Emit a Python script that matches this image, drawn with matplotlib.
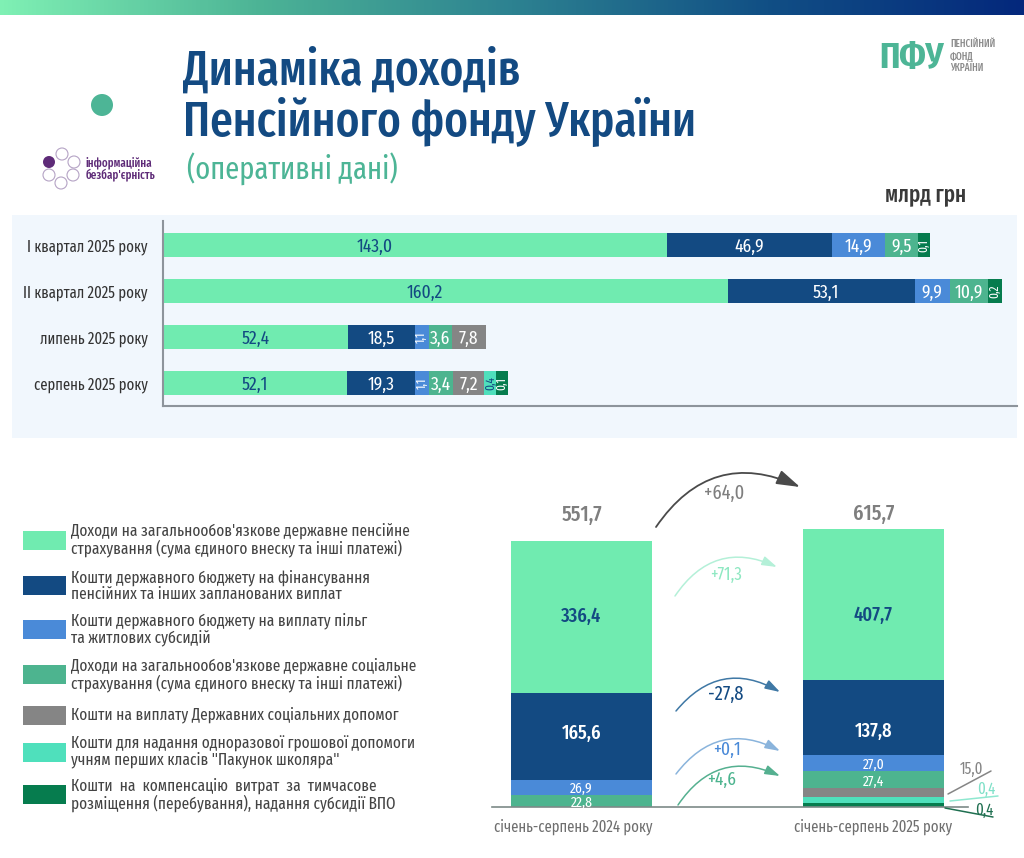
import numpy as np
import matplotlib
matplotlib.use("Agg")
import matplotlib.pyplot as plt
from matplotlib import font_manager as fm
from matplotlib.patches import Rectangle, Circle, FancyArrowPatch
from matplotlib.colors import LinearSegmentedColormap

names = {f.name for f in fm.fontManager.ttflist}
prefs = ["Fira Sans Extra Condensed", "PT Sans Narrow", "Roboto Condensed", "Liberation Sans Narrow", "Roboto"]
fam = [n for n in prefs if n in names][:1] + ["DejaVu Sans"]
plt.rcParams["font.family"] = fam

# ---------- data ----------
periods = ["I квартал 2025 року", "II квартал 2025 року", "липень 2025 року", "серпень 2025 року"]
pension_ins = [143.0, 160.2, 52.4, 52.1]
budget_pay = [46.9, 53.1, 18.5, 19.3]
budget_subs = [14.9, 9.9, 1.1, 1.1]
social_ins = [9.5, 10.9, 3.6, 3.4]
state_aid = [0, 0, 7.8, 7.2]
school_pack = [0, 0, 0, 0.4]
idp_comp = [0.1, 0.2, 0, 0.1]
# drawn lengths: the reference enlarges the small segments so labels fit
pension_ins_len = [143.0, 160.2, 52.4, 52.1]
budget_pay_len = [46.9, 53.1, 19.0, 19.5]
budget_subs_len = [14.9, 9.9, 4.0, 4.0]
social_ins_len = [9.5, 10.9, 6.5, 6.8]
state_aid_len = [0, 0, 9.7, 8.8]
school_pack_len = [0, 0, 0, 3.4]
idp_comp_len = [3.4, 3.9, 0, 3.2]
# label nudges along the bar (in px), as placed in the reference
pension_ins_nudge = [-40, -20, 0, 0]
budget_pay_nudge = [0, 5, 0, 0]

years = ["січень-серпень 2024 року", "січень-серпень 2025 року"]
totals = ["551,7", "615,7"]
y2024 = [336.4, 165.6, 26.9, 22.8]
y2025 = [407.7, 137.8, 27.0, 27.4, 15.0, 0.4, 0.4]
# drawn heights: the reference's column is not to scale
y2024_h = [152, 87, 15, 12.5]
y2025_h = [151, 75, 16, 16.5, 9, 6, 4.5]
y2024_nudge = [2, 5, 0, -1]
y2025_nudge = [-9, -12, 0, -1, 0, 0, 0]
total_gap = [26, 15]
deltas = ["+64,0", "+71,3", "-27,8", "+0,1", "+4,6"]

legend_items = [
    "Доходи на загальнообов'язкове державне пенсійне\nстрахування (сума єдиного внеску та інші платежі)",
    "Кошти державного бюджету на фінансування\nпенсійних та інших запланованих виплат",
    "Кошти державного бюджету на виплату пільг\nта житлових субсидій",
    "Доходи на загальнообов'язкове державне соціальне\nстрахування (сума єдиного внеску та інші платежі)",
    "Кошти на виплату Державних соціальних допомог",
    "Кошти для надання одноразової грошової допомоги\nучням перших класів \"Пакунок школяра\"",
    "Кошти  на  компенсацію  витрат  за  тимчасове\nрозміщення (перебування), надання субсидії ВПО",
]
colors = ["#70ebb0", "#134a82", "#4a8ad8", "#4db48f", "#858585", "#4fe0bc", "#067c4e"]
label_colors = ["#134a82", "white", "white", "white", "white", "#134a82", "white"]

W, H = 1024, 858
PX = 0.72  # px -> pt at dpi 100
fig = plt.figure(figsize=(W / 100, H / 100), dpi=100, facecolor="white")


def axes_px(x0, y0, x1, y1, **kw):
    return fig.add_axes([x0 / W, 1 - y1 / H, (x1 - x0) / W, (y1 - y0) / H], **kw)


# ---------- overlay ----------
bg = fig.add_axes([0, 0, 1, 1], zorder=0)
bg.set_xlim(0, W)
bg.set_ylim(H, 0)
bg.axis("off")
cmap = LinearSegmentedColormap.from_list("g", ["#7ff0b4", "#4db496", "#2d8291", "#114f85", "#04287c"])
bg.imshow(np.linspace(0, 1, 512)[None, :], extent=(0, W, 15, 0), cmap=cmap, aspect="auto")
bg.set_xlim(0, W)
bg.set_ylim(H, 0)
bg.add_patch(Rectangle((12, 215), 1005, 223, fc="#f1f7fd", ec="none"))

NAVY = "#134a82"
bg.text(183, 85, "Динаміка доходів", fontsize=49 * PX, fontweight=500, color=NAVY, va="baseline")
bg.text(183, 136, "Пенсійного фонду України", fontsize=49 * PX, fontweight=500, color=NAVY, va="baseline")
bg.text(187, 180, "(оперативні дані)", fontsize=31 * PX, color="#4db596", va="baseline")
bg.text(926, 201, "млрд грн", fontsize=23 * PX, fontweight=500, color="#3a3a3a", ha="center", va="baseline")

# logos
bg.add_patch(Circle((102, 105), 11, fc="#4db596", ec="none"))
bg.text(879, 68, "ПФУ", fontsize=37 * PX, fontweight="bold", color="#4db596", va="baseline")
for yy, s in zip([47, 59, 71], ["ПЕНСІЙНИЙ", "ФОНД", "УКРАЇНИ"]):
    bg.text(950, yy, s, fontsize=10 * PX, fontweight=500, color="#8a8a8a", va="baseline")
bg.add_patch(Circle((49, 162), 6, fc="#5e2b78", ec="none"))
for cx, cy in [(62, 154), (74, 162), (49, 175), (61, 183), (73, 175)]:
    bg.add_patch(Circle((cx, cy), 6, fc="white", ec="#b5a3c5", lw=0.8))
bg.text(86, 166, "інформаційна", fontsize=12 * PX, fontweight=500, color="#5e2b78", va="baseline")
bg.text(86, 178, "безбар'єрність", fontsize=12 * PX, fontweight=500, color="#5e2b78", va="baseline")

# ---------- top chart ----------
ax = axes_px(163, 221, 1017, 406, zorder=2)
ax.patch.set_alpha(0)
PXU = 3.524
ax.set_xlim(0, 854 / PXU)
pos = np.arange(len(periods))
ax.set_ylim(3 + 23 / 46, -24 / 46)
series = [pension_ins, budget_pay, budget_subs, social_ins, state_aid, school_pack, idp_comp]
lengths = [pension_ins_len, budget_pay_len, budget_subs_len, social_ins_len, state_aid_len, school_pack_len, idp_comp_len]
nudges = [pension_ins_nudge, budget_pay_nudge] + [[0, 0, 0, 0]] * 5
left = np.zeros(len(periods))
for s, l, c, tc, nd in zip(series, lengths, colors, label_colors, nudges):
    ax.barh(pos, l, left=left, height=24 / 46, color=c, linewidth=0)
    for i, (v, w) in enumerate(zip(s, l)):
        if v == 0:
            continue
        small = w < 4.5
        ax.text(left[i] + w / 2 + nd[i] / PXU, pos[i], f"{v:.1f}".replace(".", ","), ha="center",
                va="center" if small else "center_baseline", rotation_mode="anchor" if small else "default",
                color=tc, rotation=90 if small else 0, fontsize=(12.5 if small else 19) * PX)
    left += np.array(l)
ax.set_yticks(pos, periods, fontsize=16 * PX, color="#333333")
ax.set_xticks([])
ax.tick_params(axis="y", length=0, pad=11)
for sp in ("top", "right"):
    ax.spines[sp].set_visible(False)
for sp in ("left", "bottom"):
    ax.spines[sp].set_color("#8d949b")
    ax.spines[sp].set_linewidth(1.5)

# ---------- bottom chart ----------
ax2 = axes_px(492, 500, 968, 807, zorder=2)
ax2.patch.set_alpha(0)
BW = 141 / 292
ax2.set_xlim((492 - 581.5) / 292, (968 - 581.5) / 292)
ax2.set_ylim(0, 307)
for x, vals, hs, nd in [(0, y2024, y2024_h, y2024_nudge), (1, y2025, y2025_h, y2025_nudge)]:
    bottom = sum(hs)
    for k, (v, h) in enumerate(zip(vals, hs)):
        bottom -= h
        ax2.bar(x, h, bottom=bottom, width=BW, color=colors[k], linewidth=0)
        if k < 4:
            big = k < 2
            ax2.text(x, bottom + h / 2 + nd[k], f"{v:.1f}".replace(".", ","), ha="center", va="center_baseline",
                     color=label_colors[k], fontsize=(20 if big else 15) * PX, fontweight=500 if big else "normal")
    ax2.text(x, sum(hs) + total_gap[x], totals[x], ha="center", va="center", color="#7f7f7f", fontsize=22 * PX, fontweight=500)
ax2.set_xticks([-8 / 292, 1], years, fontsize=16 * PX, color="#6f6f6f")
ax2.tick_params(axis="x", length=0, pad=8)
ax2.set_yticks([])
for sp in ("top", "right", "left"):
    ax2.spines[sp].set_visible(False)
ax2.spines["bottom"].set_color("#7d8a88")
ax2.spines["bottom"].set_linewidth(1.2)

# ---------- curved arrows ----------
fg = fig.add_axes([0, 0, 1, 1], zorder=3)
fg.set_xlim(0, W)
fg.set_ylim(H, 0)
fg.axis("off")
arrows = [((656, 527), (800, 487), "#4a4a4a", 1.3, 16, (724, 493), "#7f7f7f", 20),
          ((675, 596), (777, 567), "#b4f0d8", 1.1, 10, (726, 575), "#8fe8c2", 18),
          ((676, 711), (780, 692), "#3f78a5", 1.1, 10, (726, 694), NAVY, 20),
          ((676, 774), (780, 751), "#8ab4dc", 1.1, 10, (727, 750), "#4a8ad8", 19),
          ((678, 805), (780, 776), "#55b090", 1.1, 10, (722, 780), "#4db48f", 19)]
for (a, b, c, lw, ms, tp, tc, fs), dl in zip(arrows, deltas):
    fg.add_patch(FancyArrowPatch(a, b, connectionstyle="arc3,rad=-0.42",
                                 arrowstyle="-|>,head_length=0.9,head_width=0.28",
                                 mutation_scale=ms, color=c, lw=lw, shrinkA=0, shrinkB=0))
    fg.text(tp[0], tp[1], dl, ha="center", va="center", color=tc, fontsize=fs * PX)

# small-segment leader labels
leaders = [("15,0", (972, 769), (948, 794), (991, 771), "#858585"),
           ("0,4", (986, 789), (950, 801), (998, 796), "#8fe8d0"),
           ("0,4", (984, 810), (945, 808), (993, 817), "#1f6f50")]
for t, p, a, b, c in leaders:
    fg.plot([a[0], b[0]], [a[1], b[1]], color=c, lw=1.1, solid_capstyle="round")
    fg.text(p[0], p[1], t, ha="center", va="center", color=c if c != "#8fe8d0" else "#7fe0c8", fontsize=16 * PX)

# ---------- legend ----------
leg_y = [540, 585.5, 629.5, 674.5, 715, 752, 794.5]
for y, c, t in zip(leg_y, colors, legend_items):
    fg.add_patch(Rectangle((23, y - 9.5), 43, 19, fc=c, ec="none"))
    fg.text(71, y, t, fontsize=16.6 * PX, color="#444444", va="center", ha="left", linespacing=1.02)

fig.savefig("out.png", dpi=100)
